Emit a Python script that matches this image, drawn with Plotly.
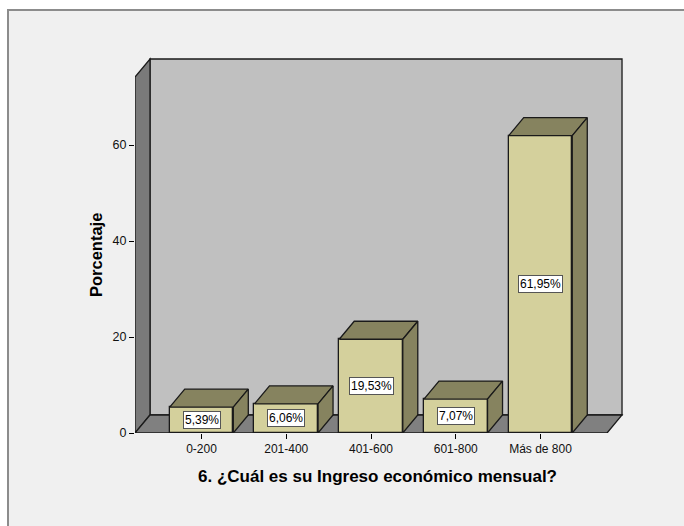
import plotly.graph_objects as go

# Income brackets and their share of respondents (%)
categories = ["0-200", "201-400", "401-600", "601-800", "Más de 800"]
percentages = [5.39, 6.06, 19.53, 7.07, 61.95]
y_ticks = [0, 20, 40, 60]

x_title = "6. ¿Cuál es su Ingreso económico mensual?"
y_title = "Porcentaje"

# Colours of the 3-D frame and bars
FRONT = "#D4D09C"
SHADE = "#86835F"
BACK_WALL = "#C0C0C0"
SIDE_WALL = "#7A7A7A"
FLOOR = "#808080"
EDGE = "#1A1A1A"
FONT = "Liberation Sans, Arial"

# Frame extents (data units) and depth offset of the pseudo-3D projection
x_lo, x_hi = -0.785, 4.785
depth_x, depth_y = 0.177, 3.75
wall_top = 77.92
bar_w = 0.75

W, H = 684, 526
m_l, m_r, m_t, m_b = 135, 58, 56, 93
x_range = [x_lo, x_hi + depth_x + 0.047]
y_range = [0, wall_top + 0.63]
pw, ph = W - m_l - m_r, H - m_t - m_b

fig = go.Figure()

# panel background with its top/left rule
fig.add_shape(type="rect", xref="paper", yref="paper", layer="below",
              x0=(8 - m_l) / pw, x1=(W + 10 - m_l) / pw,
              y0=(H - m_b - (H + 10)) / ph, y1=(H - m_b - 10) / ph,
              fillcolor="#F0F0F0", line=dict(color="#8C8C8C", width=2))


def wall(xs, ys, fill):
    path = "M " + " L ".join(f"{a},{b}" for a, b in zip(xs, ys)) + " Z"
    fig.add_shape(type="path", path=path, xref="x", yref="y", layer="below",
                  fillcolor=fill, line=dict(color=EDGE, width=1.3))


# back wall, left wall, floor
wall([x_lo + depth_x, x_hi + depth_x, x_hi + depth_x, x_lo + depth_x],
     [depth_y, depth_y, wall_top, wall_top], BACK_WALL)
wall([x_lo, x_lo, x_lo + depth_x, x_lo + depth_x],
     [0, wall_top - depth_y, wall_top, depth_y], SIDE_WALL)
wall([x_lo, x_hi, x_hi + depth_x, x_lo + depth_x],
     [0, 0, depth_y, depth_y], FLOOR)

# bar fronts
xs = list(range(len(categories)))
fig.add_trace(go.Bar(
    x=xs, y=percentages, width=bar_w,
    marker=dict(color=FRONT, line=dict(color=EDGE, width=1.3)),
    hoverinfo="skip", showlegend=False))


def face(xs_, ys_, fill):
    fig.add_trace(go.Scatter(
        x=xs_ + [xs_[0]], y=ys_ + [ys_[0]], mode="lines", fill="toself",
        fillcolor=fill, line=dict(color=EDGE, width=1.3),
        hoverinfo="skip", showlegend=False))


# bar tops and right-hand sides
for xi, v in zip(xs, percentages):
    l, r = xi - bar_w / 2, xi + bar_w / 2
    face([l, l + depth_x, r + depth_x, r], [v, v + depth_y, v + depth_y, v], SHADE)
    face([r, r, r + depth_x, r + depth_x], [0, v, v + depth_y, depth_y], SHADE)

# value labels
for xi, v in zip(xs, percentages):
    fig.add_annotation(
        x=xi, y=v / 2, xref="x", yref="y",
        text=f"{v:.2f}".replace(".", ",") + "%", showarrow=False,
        xanchor="center", yanchor="middle",
        font=dict(family=FONT, size=12, color="#000"),
        bgcolor="white", bordercolor="#555", borderwidth=1, borderpad=1)

# axis titles
fig.add_annotation(
    x=(377 - m_l) / pw, y=(H - m_b - 477) / ph,
    xref="paper", yref="paper", text=f"<b>{x_title}</b>", showarrow=False,
    xanchor="center", yanchor="middle",
    font=dict(family=FONT, size=17, color="#000"))
fig.add_annotation(
    x=(96 - m_l) / pw, y=(H - m_b - 255) / ph,
    xref="paper", yref="paper", text=f"<b>{y_title}</b>", showarrow=False,
    textangle=-90, xanchor="center", yanchor="middle",
    font=dict(family=FONT, size=16.5, color="#000"))

fig.update_layout(
    width=W, height=H,
    margin=dict(l=m_l, r=m_r, t=m_t, b=m_b, pad=0),
    paper_bgcolor="white", plot_bgcolor="rgba(0,0,0,0)",
    showlegend=False, bargap=0,
    font=dict(family=FONT, size=12, color="#111"),
    xaxis=dict(range=x_range, tickvals=xs, ticktext=categories,
               showgrid=False, zeroline=False, showline=False,
               ticks="outside", ticklen=5, tickcolor="#000", tickwidth=1,
               tickfont=dict(size=12, color="#111")),
    yaxis=dict(range=y_range, tickvals=y_ticks,
               showgrid=False, zeroline=False, showline=False,
               ticks="outside", ticklen=5, tickcolor="#000", tickwidth=1,
               tickfont=dict(size=12.5, color="#111")),
)

fig.write_html("out.html")
